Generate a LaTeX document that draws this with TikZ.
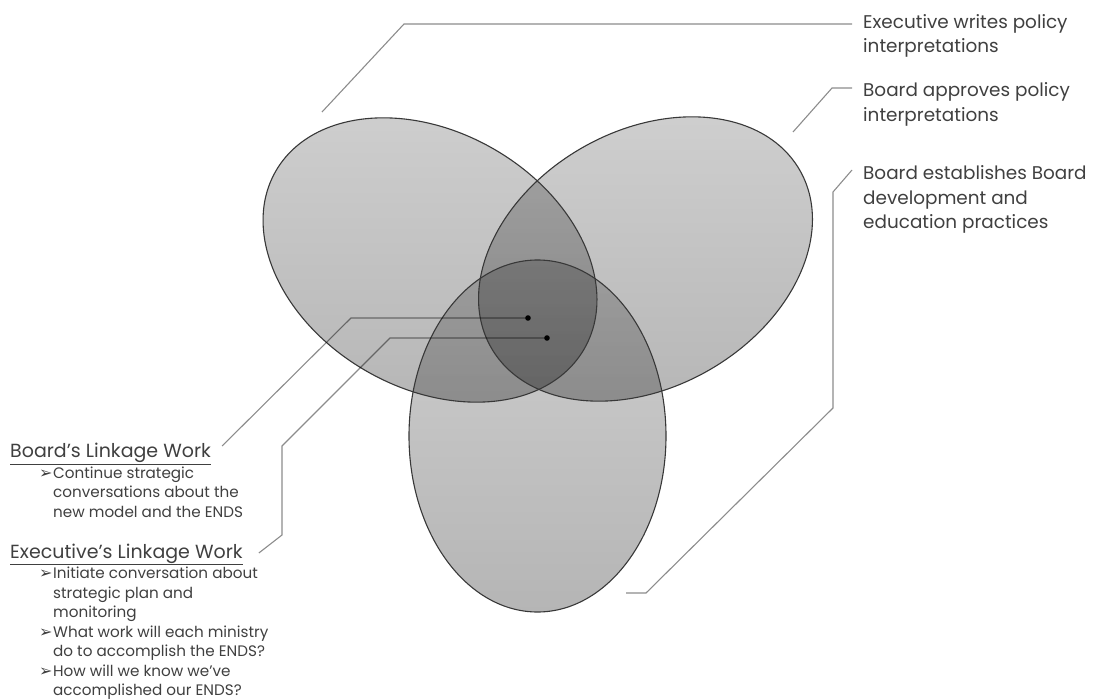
\documentclass[tikz,border=0pt]{standalone}
\usepackage{fontspec}
\setmainfont{Poppins}
\newfontfamily\dingfont{DejaVu Sans}
\usetikzlibrary{fadings}

\tikzfading[name=vennfade, top color=transparent!35, bottom color=transparent!0]

\tikzset{
  venn/.style={fill=black, fill opacity=0.29, path fading=vennfade},
  vennline/.style={draw=black!78, line width=1.1pt},
  callout/.style={draw=black, draw opacity=0.45, line width=1.1pt},
  tag/.style={anchor=base west, align=left, inner sep=0pt, text=black!75,
    font=\fontsize{18.4}{24.5}\selectfont},
  head/.style={anchor=base west, inner sep=0pt, text=black!75,
    font=\fontsize{19}{20}\selectfont},
  items/.style={anchor=base west, align=left, inner sep=0pt, text=black!75,
    font=\fontsize{15.2}{19.5}\selectfont},
}
\newcommand{\bul}{\makebox[14pt][l]{\dingfont\fontsize{16}{16}\selectfont ➢}}
\newcommand{\ind}{\hspace*{14pt}}

\begin{document}
\begin{tikzpicture}[x=1pt,y=-1pt]
\useasboundingbox[fill=white] (0,0) rectangle (1094,700);

% Three overlapping ellipses
\coordinate (cLeft) at (430,260);
\coordinate (cRight) at (645.5,259);
\coordinate (cBottom) at (537.5,436);
\fill[venn] (cLeft) ellipse [x radius=178, y radius=128, rotate=-30];
\fill[venn] (cRight) ellipse [x radius=178, y radius=128, rotate=30];
\fill[venn] (cBottom) ellipse [x radius=128.5, y radius=176];
\draw[vennline] (cLeft) ellipse [x radius=178, y radius=128, rotate=-30];
\draw[vennline] (cRight) ellipse [x radius=178, y radius=128, rotate=30];
\draw[vennline] (cBottom) ellipse [x radius=128.5, y radius=176];

% Free ends of the callouts
\coordinate (tipL) at (322,112);
\coordinate (tipR) at (793,132);
\coordinate (tipB) at (626,593);
\coordinate (dotA) at (528,318);
\coordinate (dotB) at (547,338);

% Labels on the right (placed by the baseline of their last line)
\node[tag] (execwrites) at (863,53) {Executive writes policy\\interpretations};
\node[tag] (boardappr) at (863,121.5) {Board approves policy\\interpretations};
\node[tag] (boardest) at (863,229) {Board establishes Board\\development and\\education practices};

% Linkage work on the left
\node[head] (boardlink) at (10,457.5) {\underline{Board’s Linkage Work}};
\node[items] (boardlist) at (39,517) {\bul Continue strategic\\\ind conversations about the\\\ind new model and the ENDS};
\node[head] (execlink) at (10,558) {\underline{Executive’s Linkage Work}};
\node[items] (execlist) at (39,695.5) {\bul Initiate conversation about\\\ind strategic plan and\\\ind monitoring\\\bul What work will each ministry\\\ind do to accomplish the ENDS?\\\bul How will we know we’ve\\\ind accomplished our ENDS?};

% Callouts
\draw[callout] (tipL) -- (404,24) -- ([xshift=-11pt,yshift=29pt]execwrites.base west);
\draw[callout] (tipR) -- (832,88) -- ([xshift=-11pt,yshift=33.5pt]boardappr.base west);
\draw[callout] (tipB) -- (646,593) -- (833,408) -- (833,192) -- ([xshift=-11pt,yshift=59pt]boardest.base west);
\draw[callout] (dotA) -- (351,318) -- ([xshift=11pt,yshift=11.5pt]boardlink.base east);
\draw[callout] (dotB) -- (390,338) -- (282,446) -- (282,535) -- ([xshift=16pt,yshift=5pt]execlink.base east);
\fill (dotA) circle (2.8);
\fill (dotB) circle (2.8);

\end{tikzpicture}
\end{document}
